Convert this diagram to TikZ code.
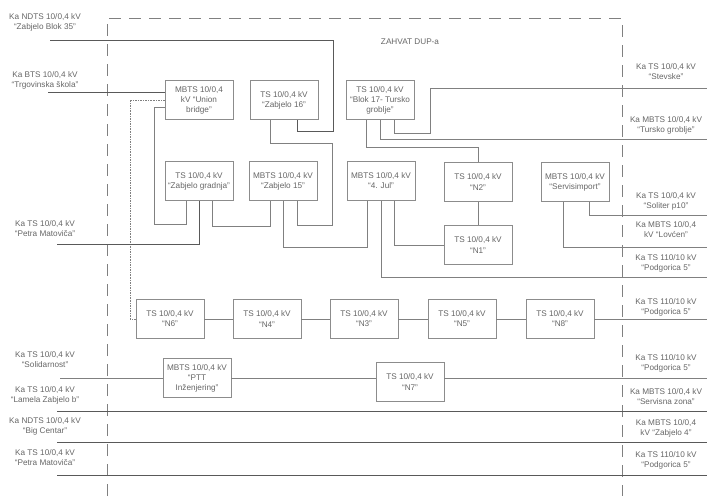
\documentclass[tikz,border=0pt]{standalone}
\usepackage{fontspec}
\setmainfont{Liberation Sans}
\usepackage{tikz}

\begin{document}
\begin{tikzpicture}[x=0.03cm, y=-0.03cm,
every node/.style = {font=\fontsize{7}{8.6}\selectfont, text=black!60},
every edge/.style = {draw=black!50, thin},
   stn/.style = {draw=black!45, fill=white, align=center, inner sep=1pt,
                 minimum width=2.04cm, minimum height=1.17cm},
   lbl/.style = {align=center, inner sep=0pt},
    ln/.style = {draw=black!50, thin},
   ln2/.style = {draw=black!65, line width=0.6pt},
 frame/.style = {draw=black!50, thin, dash pattern=on 0.36cm off 0.24cm}
                    ]
\useasboundingbox (0,0) rectangle (707,496);
% granica zahvata
\draw[frame] (107,496) |- (622,18) -- (622,496);
\node(T) at (410,42) {ZAHVAT DUP-a};
% trafostanice
\node(UB)  [stn] at (199,100) {MBTS 10/0,4\\kV “Union\\bridge”};
\node(Z16) [stn] at (284,100) {TS 10/0,4 kV\\“Zabjelo 16”};
\node(B17) [stn] at (380,100) {TS 10/0,4 kV\\“Blok 17- Tursko\\groblje”};
\node(ZG)  [stn] at (199,181) {TS 10/0,4 kV\\“Zabjelo gradnja”};
\node(Z15) [stn] at (283,181) {MBTS 10/0,4 kV\\“Zabjelo 15”};
\node(J4)  [stn] at (381,181) {MBTS 10/0,4 kV\\“4. Jul”};
\node(N2)  [stn] at (478,182) {TS 10/0,4 kV\\“N2”};
\node(SI)  [stn] at (575,182) {MBTS 10/0,4 kV\\“Servisimport”};
\node(N1)  [stn] at (478,245) {TS 10/0,4 kV\\“N1”};
\node(N6)  [stn] at (170,319) {TS 10/0,4 kV\\“N6”};
\node(N4)  [stn] at (267,319) {TS 10/0,4 kV\\“N4”};
\node(N3)  [stn] at (364,319) {TS 10/0,4 kV\\“N3”};
\node(N5)  [stn] at (462,319) {TS 10/0,4 kV\\“N5”};
\node(N8)  [stn] at (560,319) {TS 10/0,4 kV\\“N8”};
\node(PTT) [stn] at (197,378) {MBTS 10/0,4 kV\\“PTT\\Inženjering”};
\node(N7)  [stn] at (410,382) {TS 10/0,4 kV\\“N7”};
% pravci lijevo
\node(L1) [lbl] at (45,22)  {Ka NDTS 10/0,4 kV\\“Zabjelo Blok 35”};
\node(L2) [lbl] at (45,80)  {Ka BTS 10/0,4 kV\\“Trgovinska škola”};
\node(L3) [lbl] at (45,229) {Ka TS 10/0,4 kV\\“Petra Matoviča”};
\node(L4) [lbl] at (45,360) {Ka TS 10/0,4 kV\\“Solidarnost”};
\node(L5) [lbl] at (45,395) {Ka TS 10/0,4 kV\\“Lamela Zabjelo b”};
\node(L6) [lbl] at (45,426) {Ka NDTS 10/0,4 kV\\“Big Centar”};
\node(L7) [lbl] at (45,458) {Ka TS 10/0,4 kV\\“Petra Matoviča”};
% pravci desno
\node(R1)  [lbl] at (666,72)  {Ka TS 10/0,4 kV\\“Stevske”};
\node(R2)  [lbl] at (666,125) {Ka MBTS 10/0,4 kV\\“Tursko groblje”};
\node(R3)  [lbl] at (666,201) {Ka TS 10/0,4 kV\\“Soliter p10”};
\node(R4)  [lbl] at (666,230) {Ka MBTS 10/0,4\\kV “Lovćen”};
\node(R5)  [lbl] at (666,263) {Ka TS 110/10 kV\\“Podgorica 5”};
\node(R6)  [lbl] at (666,307) {Ka TS 110/10 kV\\“Podgorica 5”};
\node(R7)  [lbl] at (666,363) {Ka TS 110/10 kV\\“Podgorica 5”};
\node(R8)  [lbl] at (666,397) {Ka MBTS 10/0,4 kV\\“Servisna zona”};
\node(R9)  [lbl] at (666,428) {Ka MBTS 10/0,4\\kV “Zabjelo 4”};
\node(R10) [lbl] at (666,460) {Ka TS 110/10 kV\\“Podgorica 5”};
% krajevi vodova
\coordinate(l1) at (50,40);   \coordinate(l2) at (48,92);
\coordinate(l3) at (57,244);  \coordinate(l4) at (60,378);
\coordinate(l5) at (57,411);  \coordinate(l6) at (57,442);
\coordinate(l7) at (57,475);
\coordinate(r1) at (707,88);  \coordinate(r2) at (707,139);
\coordinate(r3) at (707,215); \coordinate(r4) at (707,247);
\coordinate(r5) at (707,277); \coordinate(r6) at (707,319);
\coordinate(r7) at (707,378); \coordinate(r8) at (707,411);
\coordinate(r9) at (707,442); \coordinate(r10) at (707,475);
%
\draw[ln2] (l1) -| (333,131) -| ([shift={(13,0)}]Z16.south);
\draw[ln] ([shift={(-14,0)}]Z16.south) |- (332,143) -- (332,225)
          -| ([shift={(14,0)}]Z15.south);
\draw[ln2] (l2) -- (l2 -| UB.west);
\draw[ln, densely dotted] (UB.west) -- (130,100) |- (N6.west);
\draw[ln] ([shift={(0,7)}]UB.west) -| (154,224) -| ([shift={(-13,0)}]ZG.south);
\draw[ln2] (l3) -| (ZG.south);
\draw[ln] ([shift={(13,0)}]ZG.south) -- ++(0,25) -| ([shift={(-13,0)}]Z15.south);
\draw[ln] (Z15.south) -- ++(0,46) -| ([shift={(-14,0)}]J4.south);
\draw[ln] (J4.south) |- (r5);
\draw[ln] ([shift={(13,0)}]J4.south) |- (N1.west);
\draw[ln] ([shift={(-14,0)}]B17.south) -- ++(0,27) -| (N2.north);
\draw[ln] (B17.south) |- (r2);
\draw[ln] ([shift={(14,0)}]B17.south) -- ++(0,13) -| (430,88) -- (r1);
\draw[ln] ([shift={(-12,0)}]SI.south) |- (r4);
\draw[ln] ([shift={(14,0)}]SI.south) |- (r3);
%
\path   (N2) edge (N1)
        (N6) edge (N4)
        (N4) edge (N3)
        (N3) edge (N5)
        (N5) edge (N8)
        (N8) edge (r6)
        (l4) edge (PTT)
        (PTT) edge (PTT -| N7.west)
        (PTT -| N7.east) edge (r7);
\draw[ln2] (l5) -- (r8);
\draw[ln2] (l6) -- (r9);
\draw[ln2] (l7) -- (r10);
\end{tikzpicture}
\end{document}
